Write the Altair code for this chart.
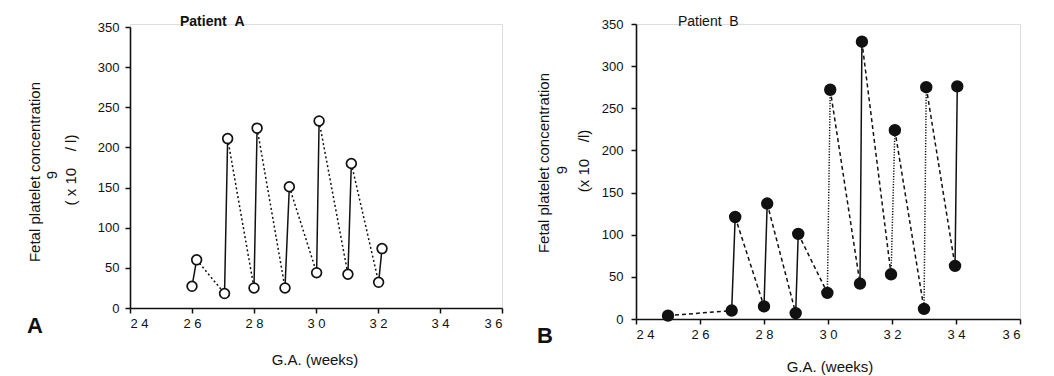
import altair as alt
import pandas as pd

# ---- data ----
a_weeks = [26.0, 26.15, 27.05, 27.15, 28.0, 28.1, 29.0, 29.14, 30.02, 30.1, 31.03, 31.14, 32.02, 32.13]
a_plt = [27, 60, 18, 211, 25, 224, 25, 151, 44, 233, 42, 180, 32, 74]
a_styles = ["solid", "dot", "solid", "dot", "solid", "dot", "solid", "dot", "solid", "dot", "solid", "dot", "solid"]

b_weeks = [25.0, 26.99, 27.1, 28.0, 28.1, 28.99, 29.07, 29.98, 30.07, 31.0, 31.06, 31.97, 32.09, 33.0, 33.07, 33.97, 34.04]
b_plt = [4, 10, 121, 15, 137, 7, 101, 31, 272, 42, 329, 53, 224, 12, 275, 63, 276]
b_styles = ["dash", "solid", "dash", "solid", "dash", "solid", "dash", "fine", "dash", "solid", "dash", "fine", "dash", "fine", "dash", "solid"]

x_ticks = [24, 26, 28, 30, 32, 34, 36]
y_ticks = [0, 50, 100, 150, 200, 250, 300, 350]

INK = "#111111"
FONT = "Liberation Sans"
NB = "\u00a0"


def segments(xs, ys, styles):
    rows = []
    for i, st in enumerate(styles):
        rows.append({"seg": i, "style": st, "ord": 0, "x": xs[i], "y": ys[i]})
        rows.append({"seg": i, "style": st, "ord": 1, "x": xs[i + 1], "y": ys[i + 1]})
    return pd.DataFrame(rows)


def note(text, px, py, size=13, weight="normal", angle=0, align="center"):
    return alt.Chart(pd.DataFrame({"t": [text]})).mark_text(
        font=FONT, fontSize=size, fontWeight=weight, angle=angle, align=align,
        baseline="middle", color=INK
    ).encode(text="t:N", x=alt.value(px), y=alt.value(py))


def panel(xs, ys, styles, w, h, yrange, filled, texts, ylabpad):
    xsc = alt.Scale(domain=[24, 36], nice=False, zero=False)
    ysc = alt.Scale(domain=[0, 350], nice=False, range=yrange)
    xax = alt.Axis(values=x_ticks, title=None, grid=False, labelFontSize=13, labelFont=FONT,
                   labelColor=INK, domainColor=INK, tickColor=INK, domainWidth=1.6, tickWidth=1.5,
                   tickSize=5, labelPadding=4,
                   labelExpr="substring(datum.label,0,1)+' '+substring(datum.label,1)")
    yax = alt.Axis(values=y_ticks, title=None, grid=False, labelFontSize=13, labelFont=FONT,
                   labelColor=INK, domainColor=INK, tickColor=INK, domainWidth=1.6, tickWidth=1.5,
                   tickSize=5, labelPadding=ylabpad)
    seg = alt.Chart(segments(xs, ys, styles)).mark_line(color=INK, strokeWidth=1.5).encode(
        x=alt.X("x:Q", scale=xsc, axis=xax),
        y=alt.Y("y:Q", scale=ysc, axis=yax),
        detail="seg:N",
        order="ord:Q",
        strokeDash=alt.StrokeDash("style:N", legend=None, scale=alt.Scale(
            domain=["solid", "dot", "dash", "fine"],
            range=[[1, 0], [2, 2.5], [4, 3], [1.2, 1.5]])),
    )
    pts = alt.Chart(pd.DataFrame({"x": xs, "y": ys})).mark_point(
        shape="circle", filled=filled, size=115 if filled else 95,
        fill=INK if filled else "white", stroke=INK, strokeWidth=1.7, opacity=1
    ).encode(x=alt.X("x:Q", scale=xsc), y=alt.Y("y:Q", scale=ysc))
    return alt.layer(seg, pts, *texts).properties(width=w, height=h)


panel_a = panel(a_weeks, a_plt, a_styles, 372, 284, [284, 3], False, [
    note("Patient" + NB + NB + "A", 50, -2, size=14, weight="bold", align="left"),
    note("Fetal platelet concentration", -95, 148, size=15, angle=270),
    note("9", -78, 151, size=15, angle=270),
    note("(" + NB + "x" + NB + "10" + NB * 4 + "/" + NB + "l)", -59, 146, size=15, angle=270),
    note("A", -95, 302, size=22, weight="bold"),
    note("G.A. (weeks)", 185, 336, size=15),
], 6)

panel_b = panel(b_weeks, b_plt, b_styles, 384, 295, [295, 0], True, [
    note("Patient" + NB + NB + "B", 42, -2, size=14, align="left"),
    note("Fetal platelet concentration", -92, 139, size=15, angle=270),
    note("9", -74, 146, size=15, angle=270),
    note("(x" + NB + "10" + NB * 4 + "/l)", -52, 137, size=15, angle=270),
    note("B", -91, 312, size=22, weight="bold"),
    note("G.A. (weeks)", 194, 343, size=15),
], 8)

chart = alt.hconcat(panel_a, panel_b, spacing=32).properties(
    padding={"left": 18, "top": 6, "right": 5, "bottom": 5}
).configure_view(stroke=None).configure(background="white")

chart.save("out.html", embed_options={"renderer": "svg", "actions": False})
